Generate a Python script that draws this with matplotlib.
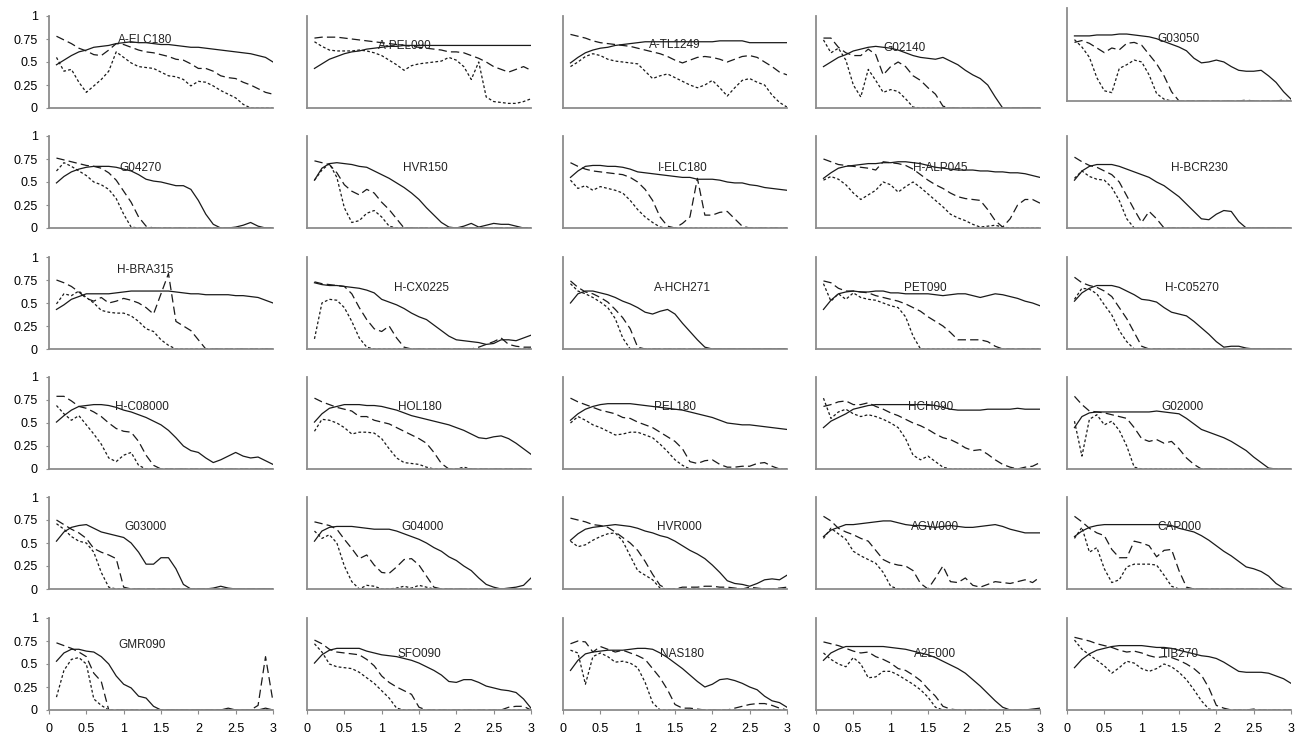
import matplotlib
matplotlib.use("Agg")
import matplotlib.pyplot as plt

plt.rcParams['font.family'] = ['Liberation Sans', 'DejaVu Sans']
plt.rcParams['lines.scale_dashes'] = False

periods = [0.1, 0.2, 0.3, 0.4, 0.5, 0.6, 0.7, 0.8, 0.9, 1.0,
           1.1, 1.2, 1.3, 1.4, 1.5, 1.6, 1.7, 1.8, 1.9, 2.0,
           2.1, 2.2, 2.3, 2.4, 2.5, 2.6, 2.7, 2.8, 2.9, 3.0]

stations = ["A-ELC180", "A-PEL090", "A-TL1249", "G02140", "G03050",
            "G04270", "HVR150", "I-ELC180", "H-ALP045", "H-BCR230",
            "H-BRA315", "H-CX0225", "A-HCH271", "PET090", "H-C05270",
            "H-C08000", "HOL180", "PEL180", "HCH090", "G02000",
            "G03000", "G04000", "HVR000", "AGW000", "CAP000",
            "GMR090", "SFO090", "NAS180", "A2E000", "TIB270"]

# label anchor (x in period units, y in axis units)
label_x = [1.29, 1.31, 1.50, 1.18, 1.49,
           1.22, 1.58, 1.60, 1.66, 1.78,
           1.29, 1.54, 1.60, 1.46, 1.67,
           1.25, 1.51, 1.50, 1.53, 1.55,
           1.29, 1.55, 1.56, 1.59, 1.51,
           1.25, 1.51, 1.60, 1.59, 1.51]
label_y = [0.74, 0.67, 0.68, 0.65, 0.67,
           0.65, 0.65, 0.65, 0.65, 0.65,
           0.86, 0.66, 0.66, 0.66, 0.66,
           0.67, 0.67, 0.67, 0.67, 0.67,
           0.67, 0.67, 0.67, 0.67, 0.67,
           0.71, 0.61, 0.61, 0.61, 0.61]

solid_lines = [
    [0.47, 0.52, 0.57, 0.61, 0.63, 0.66, 0.67, 0.68, 0.70, 0.71, 0.72, 0.71, 0.71, 0.70, 0.69, 0.69, 0.68, 0.67, 0.66, 0.66, 0.65, 0.64, 0.63, 0.62, 0.61, 0.60, 0.59, 0.57, 0.55, 0.50],
    [0.43, 0.48, 0.53, 0.56, 0.59, 0.61, 0.62, 0.64, 0.65, 0.66, 0.67, 0.67, 0.68, 0.68, 0.68, 0.68, 0.68, 0.68, 0.68, 0.68, 0.68, 0.68, 0.68, 0.68, 0.68, 0.68, 0.68, 0.68, 0.68, 0.68],
    [0.49, 0.55, 0.60, 0.63, 0.65, 0.66, 0.68, 0.69, 0.70, 0.71, 0.72, 0.72, 0.72, 0.72, 0.72, 0.72, 0.72, 0.72, 0.72, 0.72, 0.73, 0.73, 0.73, 0.73, 0.71, 0.71, 0.71, 0.71, 0.71, 0.71],
    [0.45, 0.50, 0.55, 0.58, 0.62, 0.64, 0.66, 0.67, 0.66, 0.65, 0.63, 0.60, 0.57, 0.55, 0.54, 0.53, 0.55, 0.51, 0.47, 0.41, 0.36, 0.32, 0.25, 0.12, 0, 0, 0, 0, 0, 0],
    [0.70, 0.70, 0.70, 0.71, 0.71, 0.71, 0.72, 0.72, 0.71, 0.70, 0.69, 0.67, 0.64, 0.61, 0.58, 0.54, 0.46, 0.41, 0.42, 0.44, 0.42, 0.37, 0.33, 0.32, 0.32, 0.33, 0.27, 0.20, 0.10, 0.02],
    [0.49, 0.56, 0.61, 0.64, 0.66, 0.67, 0.67, 0.67, 0.66, 0.64, 0.62, 0.58, 0.53, 0.51, 0.50, 0.48, 0.46, 0.46, 0.42, 0.30, 0.15, 0.04, 0, 0, 0.01, 0.03, 0.06, 0.02, 0, 0],
    [0.52, 0.65, 0.70, 0.71, 0.70, 0.69, 0.67, 0.66, 0.62, 0.58, 0.54, 0.49, 0.44, 0.38, 0.31, 0.22, 0.14, 0.06, 0.01, 0, 0.02, 0.05, 0.01, 0.03, 0.05, 0.04, 0.04, 0.02, 0, 0],
    [0.55, 0.62, 0.67, 0.68, 0.68, 0.67, 0.67, 0.66, 0.64, 0.61, 0.60, 0.59, 0.58, 0.57, 0.56, 0.55, 0.55, 0.53, 0.53, 0.53, 0.52, 0.50, 0.49, 0.49, 0.47, 0.46, 0.44, 0.43, 0.42, 0.41],
    [0.54, 0.60, 0.65, 0.67, 0.68, 0.69, 0.70, 0.70, 0.71, 0.71, 0.72, 0.72, 0.71, 0.70, 0.68, 0.66, 0.65, 0.64, 0.63, 0.63, 0.63, 0.62, 0.62, 0.61, 0.61, 0.60, 0.60, 0.59, 0.57, 0.55],
    [0.52, 0.62, 0.67, 0.69, 0.69, 0.69, 0.67, 0.64, 0.61, 0.58, 0.55, 0.50, 0.46, 0.40, 0.34, 0.26, 0.18, 0.10, 0.09, 0.15, 0.19, 0.18, 0.07, 0, 0, 0, 0, 0, 0, 0],
    [0.43, 0.48, 0.54, 0.57, 0.60, 0.60, 0.60, 0.60, 0.61, 0.62, 0.63, 0.63, 0.63, 0.63, 0.63, 0.63, 0.62, 0.61, 0.60, 0.60, 0.59, 0.59, 0.59, 0.59, 0.58, 0.58, 0.57, 0.56, 0.53, 0.50],
    [0.72, 0.70, 0.69, 0.69, 0.68, 0.67, 0.66, 0.64, 0.61, 0.54, 0.51, 0.48, 0.44, 0.39, 0.35, 0.32, 0.26, 0.20, 0.14, 0.10, 0.09, 0.08, 0.07, 0.05, 0.06, 0.10, 0.10, 0.09, 0.12, 0.15],
    [0.50, 0.60, 0.63, 0.63, 0.61, 0.59, 0.56, 0.52, 0.49, 0.45, 0.40, 0.38, 0.41, 0.43, 0.38, 0.28, 0.19, 0.10, 0.02, 0, 0, 0, 0, 0, 0, 0, 0, 0, 0, 0],
    [0.43, 0.53, 0.60, 0.62, 0.63, 0.62, 0.62, 0.63, 0.63, 0.61, 0.61, 0.60, 0.60, 0.60, 0.60, 0.59, 0.58, 0.59, 0.60, 0.60, 0.58, 0.56, 0.58, 0.60, 0.59, 0.57, 0.55, 0.52, 0.50, 0.47],
    [0.52, 0.61, 0.66, 0.69, 0.69, 0.69, 0.67, 0.63, 0.59, 0.54, 0.53, 0.51, 0.45, 0.40, 0.38, 0.36, 0.30, 0.23, 0.16, 0.08, 0.02, 0.03, 0.03, 0.01, 0, 0, 0, 0, 0, 0],
    [0.51, 0.58, 0.64, 0.68, 0.69, 0.70, 0.70, 0.69, 0.67, 0.64, 0.62, 0.59, 0.56, 0.52, 0.48, 0.42, 0.34, 0.25, 0.20, 0.18, 0.12, 0.07, 0.10, 0.14, 0.18, 0.14, 0.12, 0.13, 0.09, 0.05],
    [0.51, 0.60, 0.66, 0.68, 0.70, 0.70, 0.70, 0.69, 0.69, 0.68, 0.66, 0.64, 0.61, 0.58, 0.56, 0.54, 0.52, 0.50, 0.48, 0.45, 0.42, 0.38, 0.34, 0.33, 0.35, 0.36, 0.33, 0.28, 0.22, 0.16],
    [0.53, 0.60, 0.65, 0.68, 0.70, 0.71, 0.71, 0.71, 0.71, 0.70, 0.69, 0.68, 0.67, 0.66, 0.65, 0.64, 0.62, 0.60, 0.58, 0.56, 0.53, 0.50, 0.49, 0.48, 0.48, 0.47, 0.46, 0.45, 0.44, 0.43],
    [0.45, 0.52, 0.56, 0.60, 0.65, 0.67, 0.69, 0.70, 0.70, 0.70, 0.70, 0.70, 0.70, 0.70, 0.70, 0.69, 0.67, 0.65, 0.64, 0.64, 0.64, 0.64, 0.65, 0.65, 0.65, 0.65, 0.66, 0.65, 0.65, 0.65],
    [0.45, 0.57, 0.61, 0.62, 0.62, 0.62, 0.62, 0.62, 0.62, 0.62, 0.62, 0.63, 0.62, 0.61, 0.60, 0.55, 0.49, 0.43, 0.40, 0.37, 0.34, 0.30, 0.25, 0.20, 0.13, 0.07, 0.01, 0, 0, 0],
    [0.52, 0.62, 0.67, 0.69, 0.70, 0.66, 0.62, 0.60, 0.58, 0.56, 0.50, 0.40, 0.27, 0.27, 0.34, 0.34, 0.22, 0.05, 0, 0, 0, 0.01, 0.03, 0.01, 0, 0, 0, 0, 0, 0],
    [0.52, 0.63, 0.67, 0.68, 0.68, 0.68, 0.67, 0.66, 0.65, 0.65, 0.65, 0.63, 0.60, 0.57, 0.54, 0.50, 0.45, 0.41, 0.35, 0.31, 0.25, 0.20, 0.12, 0.05, 0.02, 0, 0.01, 0.02, 0.04, 0.12],
    [0.53, 0.60, 0.65, 0.67, 0.68, 0.69, 0.70, 0.69, 0.68, 0.66, 0.63, 0.61, 0.58, 0.56, 0.52, 0.47, 0.42, 0.38, 0.33, 0.26, 0.18, 0.09, 0.06, 0.05, 0.03, 0.06, 0.10, 0.11, 0.10, 0.15],
    [0.57, 0.64, 0.67, 0.70, 0.70, 0.71, 0.72, 0.73, 0.74, 0.74, 0.72, 0.70, 0.69, 0.69, 0.68, 0.67, 0.68, 0.69, 0.68, 0.67, 0.67, 0.68, 0.69, 0.70, 0.68, 0.65, 0.63, 0.61, 0.61, 0.61],
    [0.57, 0.63, 0.67, 0.69, 0.70, 0.70, 0.70, 0.70, 0.70, 0.70, 0.70, 0.70, 0.70, 0.69, 0.66, 0.64, 0.62, 0.58, 0.53, 0.47, 0.41, 0.36, 0.30, 0.24, 0.22, 0.19, 0.14, 0.06, 0.01, 0],
    [0.53, 0.62, 0.66, 0.66, 0.64, 0.63, 0.58, 0.50, 0.37, 0.28, 0.24, 0.15, 0.13, 0.04, 0, 0, 0, 0, 0, 0, 0, 0, 0, 0.02, 0, 0, 0, 0, 0.02, 0],
    [0.51, 0.60, 0.65, 0.67, 0.67, 0.67, 0.67, 0.64, 0.62, 0.60, 0.59, 0.58, 0.56, 0.54, 0.51, 0.47, 0.43, 0.38, 0.31, 0.30, 0.33, 0.33, 0.30, 0.26, 0.24, 0.22, 0.21, 0.19, 0.12, 0.02],
    [0.43, 0.54, 0.61, 0.63, 0.64, 0.65, 0.65, 0.65, 0.66, 0.67, 0.67, 0.66, 0.62, 0.57, 0.51, 0.45, 0.38, 0.31, 0.25, 0.28, 0.33, 0.34, 0.32, 0.29, 0.25, 0.22, 0.15, 0.10, 0.08, 0.03],
    [0.54, 0.62, 0.66, 0.69, 0.69, 0.69, 0.69, 0.69, 0.69, 0.68, 0.67, 0.66, 0.64, 0.62, 0.60, 0.57, 0.53, 0.49, 0.45, 0.40, 0.33, 0.26, 0.18, 0.10, 0.03, 0, 0, 0, 0.01, 0.02],
    [0.46, 0.55, 0.61, 0.65, 0.67, 0.69, 0.70, 0.70, 0.70, 0.70, 0.69, 0.68, 0.68, 0.67, 0.65, 0.63, 0.61, 0.59, 0.58, 0.56, 0.52, 0.47, 0.42, 0.41, 0.41, 0.41, 0.40, 0.37, 0.34, 0.29],
]

dashed_lines = [
    [0.78, 0.74, 0.70, 0.65, 0.62, 0.58, 0.57, 0.63, 0.70, 0.69, 0.66, 0.63, 0.61, 0.60, 0.58, 0.56, 0.53, 0.52, 0.48, 0.43, 0.43, 0.40, 0.35, 0.33, 0.32, 0.28, 0.25, 0.21, 0.17, 0.15],
    [0.76, 0.77, 0.77, 0.77, 0.76, 0.75, 0.74, 0.73, 0.72, 0.71, 0.70, 0.69, 0.68, 0.67, 0.66, 0.65, 0.64, 0.63, 0.61, 0.61, 0.60, 0.57, 0.54, 0.50, 0.45, 0.42, 0.39, 0.42, 0.45, 0.41],
    [0.80, 0.78, 0.76, 0.73, 0.71, 0.70, 0.69, 0.68, 0.67, 0.65, 0.63, 0.61, 0.59, 0.56, 0.52, 0.49, 0.52, 0.55, 0.56, 0.55, 0.53, 0.50, 0.53, 0.56, 0.57, 0.55, 0.50, 0.45, 0.39, 0.36],
    [0.76, 0.76, 0.66, 0.60, 0.57, 0.57, 0.64, 0.58, 0.36, 0.45, 0.50, 0.45, 0.35, 0.30, 0.22, 0.15, 0.02, 0, 0, 0, 0, 0, 0, 0, 0, 0, 0, 0, 0, 0],
    [0.63, 0.65, 0.62, 0.57, 0.52, 0.57, 0.55, 0.62, 0.63, 0.60, 0.50, 0.40, 0.27, 0.10, 0, 0, 0, 0, 0, 0, 0, 0, 0, 0.01, 0, 0, 0, 0, 0.01, 0],
    [0.76, 0.74, 0.72, 0.70, 0.68, 0.67, 0.65, 0.60, 0.52, 0.40, 0.28, 0.12, 0.02, 0, 0, 0, 0, 0, 0, 0, 0, 0, 0, 0, 0, 0, 0, 0, 0, 0],
    [0.73, 0.71, 0.69, 0.60, 0.47, 0.40, 0.36, 0.42, 0.38, 0.28, 0.20, 0.10, 0, 0, 0, 0, 0, 0, 0, 0, 0, 0, 0, 0, 0, 0, 0, 0, 0, 0],
    [0.71, 0.67, 0.64, 0.62, 0.61, 0.60, 0.59, 0.58, 0.55, 0.50, 0.42, 0.30, 0.12, 0.02, 0, 0.05, 0.12, 0.54, 0.14, 0.14, 0.17, 0.18, 0.10, 0.02, 0, 0, 0, 0, 0, 0],
    [0.75, 0.72, 0.69, 0.68, 0.67, 0.66, 0.65, 0.63, 0.72, 0.71, 0.70, 0.68, 0.64, 0.58, 0.52, 0.47, 0.43, 0.38, 0.34, 0.32, 0.31, 0.30, 0.20, 0.08, 0.01, 0.10, 0.25, 0.31, 0.31, 0.27],
    [0.77, 0.72, 0.68, 0.66, 0.62, 0.58, 0.50, 0.35, 0.20, 0.06, 0.18, 0.10, 0, 0, 0, 0, 0, 0, 0, 0, 0, 0, 0, 0, 0, 0, 0, 0, 0, 0],
    [0.75, 0.72, 0.68, 0.62, 0.55, 0.52, 0.56, 0.50, 0.52, 0.55, 0.53, 0.50, 0.45, 0.38, 0.60, 0.82, 0.30, 0.25, 0.20, 0.10, 0, 0, 0, 0, 0, 0, 0, 0, 0, 0],
    [0.73, 0.71, 0.70, 0.69, 0.68, 0.60, 0.45, 0.32, 0.22, 0.19, 0.25, 0.12, 0.02, 0, 0, 0, 0, 0, 0, 0, 0, 0, 0.02, 0.05, 0.08, 0.12, 0.05, 0.03, 0.02, 0.02],
    [0.74, 0.67, 0.62, 0.60, 0.56, 0.51, 0.43, 0.34, 0.22, 0.02, 0, 0, 0, 0, 0, 0, 0, 0, 0, 0, 0, 0, 0, 0, 0, 0, 0, 0, 0, 0],
    [0.74, 0.72, 0.66, 0.63, 0.63, 0.62, 0.61, 0.58, 0.56, 0.54, 0.52, 0.49, 0.45, 0.41, 0.35, 0.30, 0.25, 0.18, 0.10, 0.10, 0.10, 0.10, 0.08, 0.03, 0, 0, 0, 0, 0, 0],
    [0.78, 0.72, 0.69, 0.67, 0.63, 0.57, 0.45, 0.33, 0.18, 0.03, 0, 0, 0, 0, 0, 0, 0, 0, 0, 0, 0, 0, 0, 0, 0, 0, 0, 0, 0, 0],
    [0.79, 0.79, 0.74, 0.68, 0.66, 0.62, 0.57, 0.50, 0.44, 0.41, 0.40, 0.30, 0.15, 0.04, 0, 0, 0, 0, 0, 0, 0, 0, 0, 0, 0, 0, 0, 0, 0, 0],
    [0.77, 0.73, 0.70, 0.67, 0.65, 0.63, 0.57, 0.57, 0.53, 0.51, 0.49, 0.45, 0.41, 0.37, 0.33, 0.28, 0.18, 0.06, 0, 0, 0, 0, 0, 0, 0, 0, 0, 0, 0, 0],
    [0.77, 0.73, 0.70, 0.67, 0.64, 0.62, 0.60, 0.56, 0.55, 0.51, 0.48, 0.45, 0.40, 0.35, 0.30, 0.22, 0.08, 0.06, 0.09, 0.10, 0.05, 0.02, 0.02, 0.03, 0.03, 0.06, 0.07, 0.03, 0, 0],
    [0.68, 0.70, 0.73, 0.74, 0.70, 0.70, 0.72, 0.68, 0.65, 0.61, 0.58, 0.54, 0.50, 0.47, 0.43, 0.38, 0.34, 0.32, 0.28, 0.23, 0.20, 0.21, 0.16, 0.10, 0.05, 0.02, 0, 0.02, 0.03, 0.07],
    [0.79, 0.70, 0.63, 0.62, 0.61, 0.59, 0.57, 0.55, 0.45, 0.33, 0.30, 0.32, 0.28, 0.30, 0.22, 0.12, 0.05, 0, 0, 0, 0, 0, 0, 0, 0, 0, 0, 0, 0, 0],
    [0.75, 0.70, 0.65, 0.61, 0.55, 0.44, 0.40, 0.37, 0.33, 0.02, 0, 0, 0, 0, 0, 0, 0, 0, 0, 0, 0, 0, 0, 0, 0, 0, 0, 0, 0, 0],
    [0.73, 0.71, 0.69, 0.65, 0.54, 0.44, 0.33, 0.37, 0.26, 0.18, 0.17, 0.24, 0.32, 0.33, 0.26, 0.14, 0.02, 0, 0, 0, 0, 0, 0, 0, 0, 0, 0, 0, 0, 0],
    [0.77, 0.75, 0.73, 0.70, 0.69, 0.67, 0.62, 0.56, 0.50, 0.42, 0.30, 0.16, 0.04, 0, 0, 0.02, 0.02, 0.02, 0.03, 0.03, 0.02, 0.02, 0.01, 0, 0.02, 0.01, 0, 0, 0.01, 0.02],
    [0.79, 0.74, 0.66, 0.62, 0.59, 0.55, 0.52, 0.42, 0.32, 0.28, 0.26, 0.25, 0.20, 0.06, 0, 0.12, 0.25, 0.08, 0.07, 0.12, 0.04, 0.02, 0.05, 0.08, 0.07, 0.06, 0.08, 0.10, 0.07, 0.13],
    [0.79, 0.73, 0.66, 0.61, 0.58, 0.43, 0.34, 0.34, 0.52, 0.50, 0.47, 0.35, 0.42, 0.43, 0.20, 0.02, 0, 0, 0, 0, 0, 0, 0, 0, 0, 0, 0, 0, 0, 0],
    [0.73, 0.70, 0.67, 0.63, 0.58, 0.40, 0.31, 0, 0, 0, 0, 0, 0, 0, 0, 0, 0, 0, 0, 0, 0, 0, 0, 0, 0, 0, 0, 0.05, 0.58, 0.09],
    [0.76, 0.72, 0.66, 0.63, 0.62, 0.61, 0.60, 0.55, 0.48, 0.37, 0.30, 0.25, 0.21, 0.17, 0.03, 0, 0, 0, 0, 0, 0, 0, 0, 0, 0, 0, 0.03, 0.04, 0.04, 0],
    [0.72, 0.75, 0.74, 0.63, 0.69, 0.66, 0.63, 0.65, 0.62, 0.59, 0.55, 0.45, 0.35, 0.22, 0.06, 0.02, 0.02, 0.01, 0, 0, 0, 0, 0.02, 0.04, 0.06, 0.07, 0.07, 0.05, 0.02, 0],
    [0.74, 0.72, 0.70, 0.67, 0.64, 0.62, 0.63, 0.58, 0.55, 0.51, 0.45, 0.43, 0.38, 0.32, 0.23, 0.15, 0.04, 0.01, 0, 0, 0, 0, 0, 0, 0, 0, 0, 0, 0, 0],
    [0.79, 0.77, 0.75, 0.72, 0.70, 0.68, 0.65, 0.63, 0.64, 0.62, 0.59, 0.57, 0.58, 0.57, 0.54, 0.50, 0.45, 0.38, 0.24, 0.05, 0.02, 0, 0, 0, 0.01, 0, 0, 0, 0, 0],
]

dotted_lines = [
    [0.55, 0.40, 0.42, 0.28, 0.17, 0.24, 0.31, 0.40, 0.61, 0.55, 0.49, 0.45, 0.44, 0.43, 0.39, 0.35, 0.34, 0.31, 0.24, 0.29, 0.28, 0.24, 0.19, 0.15, 0.11, 0.04, 0, 0, 0, 0],
    [0.72, 0.67, 0.63, 0.62, 0.62, 0.62, 0.63, 0.62, 0.60, 0.57, 0.52, 0.47, 0.41, 0.46, 0.48, 0.49, 0.50, 0.51, 0.55, 0.52, 0.45, 0.31, 0.50, 0.12, 0.07, 0.06, 0.05, 0.05, 0.07, 0.10],
    [0.45, 0.50, 0.56, 0.59, 0.57, 0.53, 0.51, 0.50, 0.49, 0.48, 0.40, 0.32, 0.35, 0.37, 0.33, 0.29, 0.25, 0.22, 0.25, 0.30, 0.22, 0.13, 0.22, 0.30, 0.32, 0.28, 0.25, 0.14, 0.06, 0.01],
    [0.74, 0.60, 0.65, 0.52, 0.25, 0.12, 0.42, 0.30, 0.17, 0.20, 0.18, 0.10, 0.01, 0, 0, 0, 0, 0, 0, 0, 0, 0, 0, 0, 0, 0, 0, 0, 0, 0],
    [0.66, 0.58, 0.47, 0.25, 0.11, 0.09, 0.35, 0.39, 0.44, 0.42, 0.28, 0.08, 0.02, 0, 0, 0, 0, 0, 0, 0, 0, 0, 0, 0, 0, 0, 0, 0, 0, 0],
    [0.62, 0.71, 0.67, 0.62, 0.57, 0.50, 0.47, 0.42, 0.32, 0.15, 0.01, 0, 0, 0, 0, 0, 0, 0, 0, 0, 0, 0, 0, 0, 0, 0, 0, 0, 0, 0],
    [0.52, 0.63, 0.70, 0.55, 0.22, 0.06, 0.08, 0.16, 0.19, 0.12, 0.02, 0, 0, 0, 0, 0, 0, 0, 0, 0, 0, 0, 0, 0, 0, 0, 0, 0, 0, 0],
    [0.52, 0.43, 0.46, 0.41, 0.45, 0.43, 0.41, 0.38, 0.30, 0.20, 0.12, 0.06, 0.01, 0, 0, 0, 0, 0, 0, 0, 0, 0, 0, 0, 0, 0, 0, 0, 0, 0],
    [0.52, 0.56, 0.53, 0.47, 0.38, 0.31, 0.36, 0.41, 0.50, 0.47, 0.39, 0.45, 0.50, 0.44, 0.37, 0.30, 0.23, 0.15, 0.11, 0.08, 0.04, 0.01, 0.02, 0.03, 0.01, 0, 0, 0, 0, 0],
    [0.54, 0.62, 0.56, 0.53, 0.52, 0.44, 0.30, 0.10, 0, 0, 0, 0, 0, 0, 0, 0, 0, 0, 0, 0, 0, 0, 0, 0, 0, 0, 0, 0, 0, 0],
    [0.49, 0.60, 0.58, 0.63, 0.56, 0.50, 0.42, 0.40, 0.39, 0.39, 0.36, 0.30, 0.22, 0.19, 0.10, 0.04, 0, 0, 0, 0, 0, 0, 0, 0, 0, 0, 0, 0, 0, 0],
    [0.11, 0.50, 0.54, 0.53, 0.45, 0.30, 0.12, 0.02, 0, 0, 0, 0, 0, 0, 0, 0, 0, 0, 0, 0, 0, 0, 0, 0, 0, 0, 0, 0, 0, 0],
    [0.71, 0.63, 0.60, 0.56, 0.51, 0.45, 0.33, 0.12, 0, 0, 0, 0, 0, 0, 0, 0, 0, 0, 0, 0, 0, 0, 0, 0, 0, 0, 0, 0, 0, 0],
    [0.71, 0.52, 0.60, 0.54, 0.61, 0.56, 0.54, 0.53, 0.50, 0.47, 0.45, 0.35, 0.14, 0, 0, 0, 0, 0, 0, 0, 0, 0, 0, 0, 0, 0, 0, 0, 0, 0],
    [0.54, 0.66, 0.65, 0.60, 0.48, 0.37, 0.20, 0.08, 0, 0, 0, 0, 0, 0, 0, 0, 0, 0, 0, 0, 0, 0, 0, 0, 0, 0, 0, 0, 0, 0],
    [0.69, 0.60, 0.53, 0.58, 0.48, 0.38, 0.27, 0.12, 0.08, 0.15, 0.18, 0.04, 0, 0, 0, 0, 0, 0, 0, 0, 0, 0, 0, 0, 0, 0, 0, 0, 0, 0],
    [0.41, 0.54, 0.53, 0.50, 0.45, 0.38, 0.40, 0.40, 0.39, 0.33, 0.22, 0.12, 0.07, 0.06, 0.05, 0.02, 0, 0, 0, 0, 0.02, 0, 0, 0, 0, 0, 0, 0, 0, 0],
    [0.50, 0.57, 0.53, 0.48, 0.45, 0.41, 0.37, 0.38, 0.40, 0.40, 0.37, 0.34, 0.27, 0.19, 0.10, 0.04, 0, 0, 0, 0, 0, 0, 0, 0, 0, 0, 0, 0, 0, 0],
    [0.77, 0.55, 0.62, 0.65, 0.60, 0.57, 0.59, 0.57, 0.54, 0.50, 0.45, 0.33, 0.15, 0.10, 0.14, 0.08, 0.02, 0, 0, 0, 0, 0, 0, 0, 0, 0, 0, 0, 0, 0],
    [0.52, 0.14, 0.54, 0.59, 0.48, 0.52, 0.42, 0.25, 0.02, 0, 0, 0, 0, 0, 0, 0, 0, 0, 0, 0, 0, 0, 0, 0, 0, 0, 0, 0, 0, 0],
    [0.71, 0.65, 0.57, 0.52, 0.50, 0.40, 0.18, 0.02, 0, 0, 0, 0, 0, 0, 0, 0, 0, 0, 0, 0, 0, 0, 0, 0, 0, 0, 0, 0, 0, 0],
    [0.63, 0.55, 0.59, 0.50, 0.25, 0.08, 0, 0.04, 0.03, 0, 0, 0.01, 0.03, 0.01, 0.04, 0.02, 0, 0, 0, 0, 0, 0, 0, 0, 0, 0, 0, 0, 0, 0],
    [0.52, 0.46, 0.48, 0.53, 0.57, 0.60, 0.61, 0.52, 0.36, 0.20, 0.15, 0.10, 0.01, 0, 0, 0, 0, 0, 0, 0, 0, 0, 0, 0, 0, 0, 0, 0, 0, 0],
    [0.55, 0.66, 0.60, 0.54, 0.41, 0.36, 0.32, 0.28, 0.18, 0.03, 0, 0, 0, 0, 0, 0, 0, 0, 0, 0, 0, 0, 0, 0, 0, 0, 0, 0, 0, 0],
    [0.55, 0.67, 0.40, 0.45, 0.22, 0.07, 0.10, 0.24, 0.27, 0.27, 0.27, 0.26, 0.15, 0.03, 0, 0, 0, 0, 0, 0, 0, 0, 0, 0, 0, 0, 0, 0, 0, 0],
    [0.14, 0.43, 0.55, 0.57, 0.50, 0.12, 0.05, 0, 0, 0, 0, 0, 0, 0, 0, 0, 0, 0, 0, 0, 0, 0, 0, 0, 0, 0, 0, 0, 0, 0],
    [0.72, 0.63, 0.50, 0.47, 0.46, 0.45, 0.41, 0.35, 0.29, 0.21, 0.13, 0.02, 0, 0, 0, 0, 0, 0, 0, 0, 0, 0, 0, 0, 0, 0, 0, 0, 0, 0],
    [0.65, 0.62, 0.28, 0.58, 0.62, 0.58, 0.52, 0.53, 0.51, 0.46, 0.30, 0.08, 0, 0, 0, 0, 0, 0, 0, 0, 0, 0, 0, 0, 0, 0, 0, 0, 0, 0],
    [0.62, 0.55, 0.50, 0.47, 0.57, 0.50, 0.35, 0.36, 0.42, 0.42, 0.38, 0.33, 0.28, 0.22, 0.14, 0.03, 0, 0, 0, 0, 0, 0, 0, 0, 0, 0, 0, 0, 0, 0],
    [0.76, 0.66, 0.60, 0.54, 0.48, 0.40, 0.46, 0.53, 0.51, 0.45, 0.42, 0.45, 0.50, 0.47, 0.41, 0.33, 0.22, 0.10, 0.01, 0, 0, 0, 0, 0, 0, 0, 0, 0, 0, 0],
]

W, H = 1311, 738
col_left = [49, 307, 563, 816, 1067]
row_top = [16, 136, 257, 377, 497, 618]
pw, ph = 224, 92

line_col = '#1a1a1a'
spine_col = '#8c8c8c'

fig = plt.figure(figsize=(W / 100, H / 100), dpi=100)

for i, name in enumerate(stations):
    r, c = divmod(i, 5)
    top = row_top[r]
    h = ph
    if i == 4:  # this panel sits a little higher in the original
        top, h = 8, 93
    ax = fig.add_axes([col_left[c] / W, 1 - (top + h) / H, pw / W, h / H])

    ax.plot(periods, solid_lines[i], color=line_col, lw=0.9)
    ax.plot(periods, dashed_lines[i], color=line_col, lw=0.9, linestyle=(0, (6, 3)))
    ax.plot(periods, dotted_lines[i], color=line_col, lw=0.9, linestyle=(0, (2, 1.6)))

    ax.text(label_x[i], label_y[i], name, fontsize=8.5, ha='center', va='center',
            color='#222222')

    ax.set_xlim(0, 3)
    ax.set_ylim(0, 1)
    for s in ['top', 'right']:
        ax.spines[s].set_visible(False)
    for s in ['left', 'bottom']:
        ax.spines[s].set_color(spine_col)
        ax.spines[s].set_linewidth(1.3)
    ax.set_facecolor('none')

    ax.set_xticks([0, 0.5, 1, 1.5, 2, 2.5, 3])
    ax.set_yticks([0, 0.25, 0.5, 0.75, 1])
    if r == 5:
        ax.set_xticklabels(['0', '0.5', '1', '1.5', '2', '2.5', '3'])
        ax.tick_params(axis='x', length=3, width=0.8, color=spine_col,
                       labelsize=9, pad=6)
    else:
        ax.tick_params(axis='x', length=0, labelbottom=False)
    if c == 0:
        ax.set_yticklabels(['0', '0.25', '0.5', '0.75', '1'])
        ax.tick_params(axis='y', length=2, width=0.8, color=spine_col,
                       labelsize=9, pad=6)
    else:
        ax.tick_params(axis='y', length=0, labelleft=False)

fig.savefig('out.png', dpi=100)
